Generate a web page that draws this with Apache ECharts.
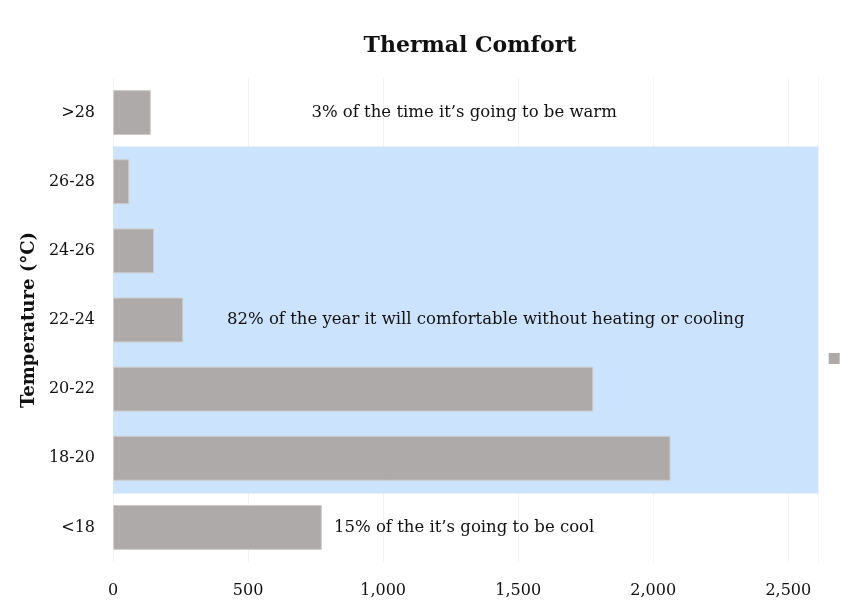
<!DOCTYPE html>
<html>
<head>
<meta charset="utf-8">
<script src="https://cdn.jsdelivr.net/npm/echarts@6/dist/echarts.min.js"></script>
<style>
  html, body { margin: 0; padding: 0; background: #fff; }
  #chart { width: 854px; height: 608px; }
</style>
</head>
<body>
<div id="chart"></div>
<script>
// categories, bottom to top
const categories = ['<18', '18-20', '20-22', '22-24', '24-26', '26-28', '>28']
const hours = [773, 2064, 1778, 260, 152, 60, 140]
// comfort band: which categories get the blue background
const comfortBand = ['-', 1, 1, 1, 1, 1, '-']
const xTicks = [0, 500, 1000, 1500, 2000, 2500]
const xMax = 2610

// notes written inside the chart
const noteText = [
  '3% of the time it\u2019s going to be warm',
  '82% of the year it will comfortable without heating or cooling',
  '15% of the it\u2019s going to be cool'
]
const noteX = [1300, 1380, 1300]
const noteCat = ['>28', '22-24', '<18']

const serif = 'DejaVu Serif'
const chart = echarts.init(document.getElementById('chart'))

chart.setOption({
  textStyle: { fontFamily: serif },
  title: {
    text: 'Thermal Comfort',
    left: 465,
    top: 30,
    textAlign: 'center',
    textStyle: { fontFamily: serif, fontSize: 22, fontWeight: 'bold', color: '#111' }
  },
  legend: {
    orient: 'vertical',
    right: 4,
    top: 348,
    itemWidth: 11,
    itemHeight: 11,
    data: [{ name: ' ', icon: 'rect', itemStyle: { borderWidth: 0 } }],
    textStyle: { fontSize: 1 }
  },
  grid: { left: 113, right: 36, top: 78, bottom: 46 },
  xAxis: {
    type: 'value',
    min: 0,
    max: xMax,
    interval: 500,
    axisLine: { show: false },
    axisTick: { show: false },
    splitLine: { show: true, lineStyle: { color: '#f3f3f3', width: 1 } },
    axisLabel: {
      color: '#111',
      fontSize: 16,
      margin: 21,
      showMaxLabel: false,
      formatter: v => xTicks.includes(v) ? v.toLocaleString('en-US') : ''
    }
  },
  yAxis: [
    {
      type: 'category',
      data: categories,
      name: 'Temperature (\u00b0C)',
      nameLocation: 'middle',
      nameGap: 74,
      nameTextStyle: { fontFamily: serif, fontSize: 18, fontWeight: 'bold', color: '#111' },
      axisLine: { show: false },
      axisTick: { show: false },
      splitLine: { show: false },
      axisLabel: { color: '#111', fontSize: 16, margin: 18 }
    },
    {
      // hidden twin axis, only for the full-height comfort band
      type: 'category',
      data: categories,
      show: false
    }
  ],
  series: [
    {
      type: 'bar',
      name: 'band',
      yAxisIndex: 1,
      data: comfortBand.map(v => v === '-' ? '-' : xMax),
      barWidth: '102%',
      itemStyle: { color: '#cbe3fc' },
      silent: true
    },
    {
      type: 'bar',
      name: ' ',
      data: hours,
      barWidth: '65%',
      itemStyle: { color: '#aeaaa9', borderColor: '#cfcccb', borderWidth: 1 }
    },
    {
      type: 'scatter',
      name: 'notes',
      symbolSize: 0,
      itemStyle: { opacity: 1 },
      data: noteText.map((t, i) => ({ value: [noteX[i], noteCat[i]], note: t })),
      label: {
        show: true,
        position: 'inside',
        color: '#111',
        fontSize: 16.5,
        formatter: p => p.data.note
      },
      silent: true
    }
  ]
})
</script>
</body>
</html>
